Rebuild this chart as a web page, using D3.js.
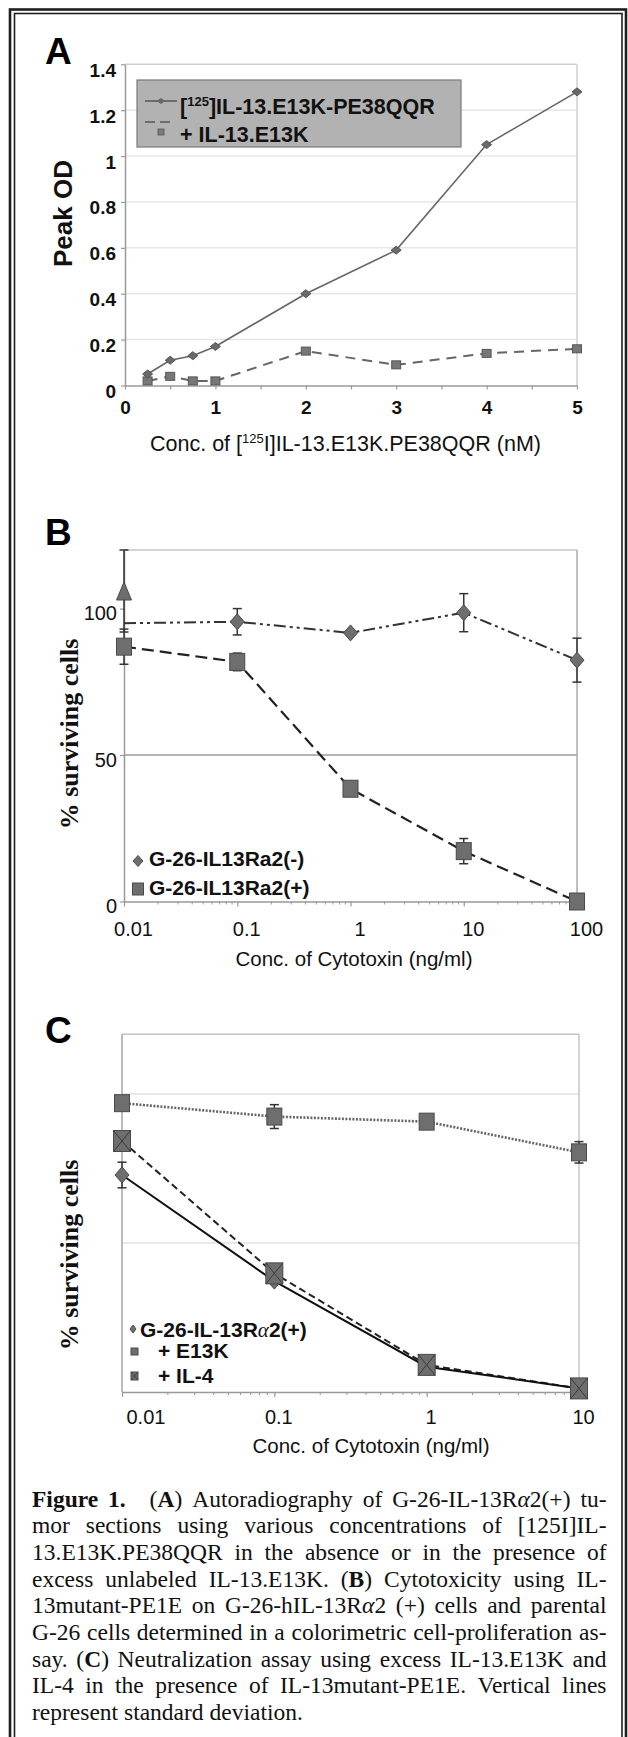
<!DOCTYPE html>
<html><head><meta charset="utf-8">
<script src="https://cdn.jsdelivr.net/npm/d3@7"></script>
<style>html,body{margin:0;padding:0;background:#fff}svg{display:block}</style>
</head><body>
<svg id="fig" width="628" height="1737"></svg>
<script>
// ---------------- DATA ----------------
// Panel A
const aConc      = [0.25, 0.5, 0.75, 1, 2, 3, 4, 5];
const aLabeled   = [0.05, 0.11, 0.13, 0.17, 0.40, 0.59, 1.05, 1.28];
const aCompeted  = [0.02, 0.04, 0.02, 0.02, 0.15, 0.09, 0.14, 0.16];
const aXTicks    = [0, 0.5, 1, 1.5, 2, 2.5, 3, 3.5, 4, 4.5, 5];
const aYTicks    = [0, 0.2, 0.4, 0.6, 0.8, 1, 1.2, 1.4];
// Panel B
const bConc      = [0.01, 0.1, 1, 10, 100];
const bNeg       = [95, 95.5, 91.7, 98.6, 82.4];
const bNegErr    = [0, 4.5, 0, 6.5, 7.5];
const bNegMarker = [false, true, true, true, true];
const bPos       = [87, 81.8, 38.5, 17.2, 0];
const bPosErr    = [6, 3, 0, 4.3, 0];
const bCtrlConc  = [0.01];
const bCtrl      = [106];
const bCtrlErr   = [14];
const bXTicks    = [0.01, 0.1, 1, 10, 100];
const bYTicks    = [0, 50, 100];
// Panel C
const cConc      = [0.01, 0.1, 1, 10];
const cBase      = [72.8, 37.2, 8.5, 1.2];
const cBaseErr   = [4.3, 0, 0, 0];
const cE13K      = [96.9, 92.4, 90.7, 80.4];
const cE13KErr   = [0, 4, 0, 3.6];
const cIL4       = [84.2, 39.8, 9.1, 1.2];
const cXTicks    = [0.01, 0.1, 1, 10];
const cGrid      = [50, 100];

// ---------------- HELPERS ----------------
const SANS = "'Liberation Sans', Arial, Helvetica, sans-serif";
const SERIF = "'Liberation Serif', 'Times New Roman', Times, serif";
const svg = d3.select("#fig");
const MFILL = "#6e6e6e", MSTROKE = "#4a4a4a";

function diamond(cx, cy, w, h) {
  return `M${cx},${cy - h / 2}L${cx + w / 2},${cy}L${cx},${cy + h / 2}L${cx - w / 2},${cy}Z`;
}
function triangle(cx, cy, w, h) {
  return `M${cx},${cy - h / 2}L${cx + w / 2},${cy + h / 2}L${cx - w / 2},${cy + h / 2}Z`;
}
function errBars(g, pts, xs, ys, cap, color) {
  pts.filter(d => d.e > 0).forEach(d => {
    const x = xs(d.x), y1 = ys(d.y + d.e), y0 = ys(d.y - d.e);
    g.append("line").attr("x1", x).attr("x2", x).attr("y1", y1).attr("y2", y0)
      .attr("stroke", color).attr("stroke-width", 1.5);
    [y0, y1].forEach(yy => g.append("line").attr("x1", x - cap / 2).attr("x2", x + cap / 2)
      .attr("y1", yy).attr("y2", yy).attr("stroke", color).attr("stroke-width", 1.5));
  });
}
function zip(xs, ys, es, ms) {
  return xs.map((x, i) => ({ x, y: ys[i], e: es ? es[i] : 0, m: ms ? ms[i] : true }));
}
function styleAxis(g, color) {
  g.select(".domain").attr("stroke", color).attr("stroke-width", 1.5);
  g.selectAll(".tick line").attr("stroke", color).attr("stroke-width", 1.2);
}

// ---------------- FRAME ----------------
svg.append("rect").attr("x", 10).attr("y", 9.5).attr("width", 616).attr("height", 1745)
  .attr("fill", "none").attr("stroke", "#1e1e1e").attr("stroke-width", 2.6);
svg.append("rect").attr("x", 14.5).attr("y", 13.5).attr("width", 607.5).attr("height", 1745)
  .attr("fill", "none").attr("stroke", "#1e1e1e").attr("stroke-width", 1.6);

// ================= PANEL A =================
(function () {
  const g = svg.append("g");
  const x = d3.scaleLinear().domain([0, 5]).range([125, 577]);
  const y = d3.scaleLinear().domain([0, 1.4]).range([385.5, 64.3]);

  g.selectAll(".grid").data(aYTicks.filter(v => v > 0 && v < 1.4)).enter().append("line")
    .attr("x1", x(0)).attr("x2", x(5)).attr("y1", d => y(d)).attr("y2", d => y(d))
    .attr("stroke", "#e6e6e6").attr("stroke-width", 1.5);
  g.append("line").attr("x1", x(0)).attr("x2", x(5)).attr("y1", y(1.4)).attr("y2", y(1.4))
    .attr("stroke", "#cfcfcf").attr("stroke-width", 1.5);
  g.append("line").attr("x1", x(5)).attr("x2", x(5)).attr("y1", y(1.4)).attr("y2", y(0))
    .attr("stroke", "#cfcfcf").attr("stroke-width", 1.5);

  const ya = g.append("g").attr("transform", `translate(${x(0)},0)`)
    .call(d3.axisLeft(y).tickValues(aYTicks).tickSize(4).tickSizeOuter(0).tickPadding(5)
      .tickFormat(d3.format("~g")));
  styleAxis(ya, "#9a9a9a");
  ya.selectAll("text").attr("dy", 0).attr("y", 12).attr("fill", "#111")
    .style("font-family", SANS).style("font-size", "19px").style("font-weight", "bold");

  const xa = g.append("g").attr("transform", `translate(0,${y(0)})`)
    .call(d3.axisBottom(x).tickValues(aXTicks).tickSize(4).tickSizeOuter(0)
      .tickFormat(d => Number.isInteger(d) ? d : ""));
  styleAxis(xa, "#9a9a9a");
  xa.selectAll("text").attr("dy", 0).attr("y", 28).attr("fill", "#111")
    .style("font-family", SANS).style("font-size", "19px").style("font-weight", "bold");

  const line = d3.line().x(d => x(d.x)).y(d => y(d.y));
  const s1 = zip(aConc, aLabeled), s2 = zip(aConc, aCompeted);
  g.append("path").attr("d", line(s2)).attr("fill", "none").attr("stroke", "#666")
    .attr("stroke-width", 2).attr("stroke-dasharray", "10,7");
  g.append("path").attr("d", line(s1)).attr("fill", "none").attr("stroke", "#666")
    .attr("stroke-width", 1.6);
  g.selectAll(".sq").data(s2).enter().append("rect")
    .attr("x", d => x(d.x) - 4.5).attr("y", d => y(d.y) - 4).attr("width", 9).attr("height", 8)
    .attr("fill", "#777").attr("stroke", "#555").attr("stroke-width", 1);
  g.selectAll(".dm").data(s1).enter().append("path")
    .attr("d", d => diamond(x(d.x), y(d.y), 10, 8)).attr("fill", "#6a6a6a").attr("stroke", "#555");

  // legend
  g.append("rect").attr("x", 137).attr("y", 80).attr("width", 324).attr("height", 67)
    .attr("fill", "#b2b2b2").attr("stroke", "#7a7a7a").attr("stroke-width", 1.2);
  g.append("line").attr("x1", 145).attr("x2", 177).attr("y1", 101).attr("y2", 101)
    .attr("stroke", "#555").attr("stroke-width", 1.5);
  g.append("path").attr("d", diamond(161, 101, 8, 6)).attr("fill", "#666");
  const t1 = g.append("text").attr("x", 180).attr("y", 113.5).attr("fill", "#111")
    .style("font-family", SANS).style("font-size", "21.5px").style("font-weight", "bold");
  t1.append("tspan").text("[");
  t1.append("tspan").attr("dy", -8).style("font-size", "13px").text("125");
  t1.append("tspan").attr("dy", 8).text("]IL-13.E13K-PE38QQR");
  g.append("line").attr("x1", 145).attr("x2", 172).attr("y1", 122).attr("y2", 122)
    .attr("stroke", "#555").attr("stroke-width", 1.5).attr("stroke-dasharray", "10,5");
  g.append("rect").attr("x", 158).attr("y", 129).attr("width", 6).attr("height", 6)
    .attr("fill", "#7a7a7a").attr("stroke", "#555").attr("stroke-width", 0.8);
  g.append("text").attr("x", 180).attr("y", 142).attr("fill", "#111")
    .style("font-family", SANS).style("font-size", "21.5px").style("font-weight", "bold")
    .text("+ IL-13.E13K");

  g.append("text").attr("x", 45).attr("y", 64).attr("fill", "#000")
    .style("font-family", SANS).style("font-size", "37px").style("font-weight", "bold").text("A");
  g.append("text").attr("transform", "translate(72,213.5) rotate(-90)").attr("text-anchor", "middle")
    .attr("fill", "#111").style("font-family", SANS).style("font-size", "26px").style("font-weight", "bold")
    .text("Peak OD");
  const xt = g.append("text").attr("x", 345.5).attr("y", 451).attr("text-anchor", "middle")
    .attr("fill", "#111").style("font-family", SANS).style("font-size", "21.5px");
  xt.append("tspan").text("Conc. of [");
  xt.append("tspan").attr("dy", -8).style("font-size", "13px").text("125");
  xt.append("tspan").attr("dy", 8).text("I]IL-13.E13K.PE38QQR (nM)");
})();

// ================= PANEL B =================
(function () {
  const g = svg.append("g");
  const x = d3.scaleLog().domain([0.01, 100]).range([124, 577]);
  const y = d3.scaleLinear().domain([0, 120]).range([901.5, 550]);

  g.append("line").attr("x1", x(0.01)).attr("x2", x(100)).attr("y1", y(50)).attr("y2", y(50))
    .attr("stroke", "#9c9c9c").attr("stroke-width", 1.5);
  g.append("line").attr("x1", x(0.01)).attr("x2", x(100)).attr("y1", y(120)).attr("y2", y(120))
    .attr("stroke", "#c4c4c4").attr("stroke-width", 1.5);
  g.append("line").attr("x1", x(100)).attr("x2", x(100)).attr("y1", y(120)).attr("y2", y(0))
    .attr("stroke", "#ababab").attr("stroke-width", 1.5);

  const ya = g.append("g").attr("transform", `translate(${x(0.01)},0)`)
    .call(d3.axisLeft(y).tickValues(bYTicks).tickSize(4).tickSizeOuter(0).tickPadding(3));
  styleAxis(ya, "#999");
  ya.selectAll("text").attr("dy", 0).attr("y", 11).attr("fill", "#111")
    .style("font-family", SANS).style("font-size", "20px");

  const xa = g.append("g").attr("transform", `translate(0,${y(0)})`)
    .call(d3.axisBottom(x).tickValues(bXTicks).tickSize(5).tickSizeOuter(0).tickFormat(d3.format("~g")));
  styleAxis(xa, "#999");
  xa.selectAll("text").attr("dy", 0).attr("y", 34).attr("dx", 9).attr("fill", "#111")
    .style("font-family", SANS).style("font-size", "20px");
  g.selectAll(".minor").data(x.ticks().filter(t => !bXTicks.some(b => Math.abs(b - t) < 1e-9)))
    .enter().append("line").attr("x1", d => x(d)).attr("x2", d => x(d))
    .attr("y1", y(0)).attr("y2", y(0) + 3).attr("stroke", "#999").attr("stroke-width", 1);

  const line = d3.line().x(d => x(d.x)).y(d => y(d.y));
  const neg = zip(bConc, bNeg, bNegErr, bNegMarker);
  const pos = zip(bConc, bPos, bPosErr);
  const ctrl = zip(bCtrlConc, bCtrl, bCtrlErr);

  errBars(g, ctrl, x, y, 9, "#333");
  errBars(g, pos, x, y, 9, "#333");
  errBars(g, neg, x, y, 9, "#333");
  g.append("path").attr("d", line(neg)).attr("fill", "none").attr("stroke", "#333")
    .attr("stroke-width", 2).attr("stroke-dasharray", "12,4,3,4,3,4");
  g.append("path").attr("d", line(pos)).attr("fill", "none").attr("stroke", "#222")
    .attr("stroke-width", 2.2).attr("stroke-dasharray", "12,6");
  g.selectAll(".tri").data(ctrl).enter().append("path")
    .attr("d", d => triangle(x(d.x), y(d.y), 15, 18)).attr("fill", MFILL).attr("stroke", MSTROKE);
  g.selectAll(".sq").data(pos).enter().append("rect")
    .attr("x", d => x(d.x) - 7.5).attr("y", d => y(d.y) - 8.5).attr("width", 15).attr("height", 17)
    .attr("fill", MFILL).attr("stroke", MSTROKE).attr("stroke-width", 1);
  g.selectAll(".dm").data(neg.filter(d => d.m)).enter().append("path")
    .attr("d", d => diamond(x(d.x), y(d.y), 14, 16)).attr("fill", MFILL).attr("stroke", MSTROKE);

  g.append("path").attr("d", diamond(138, 861, 10, 11)).attr("fill", MFILL).attr("stroke", MSTROKE);
  g.append("text").attr("x", 149).attr("y", 865.5).attr("fill", "#111")
    .style("font-family", SANS).style("font-size", "21px").style("font-weight", "bold")
    .text("G-26-IL13Ra2(-)");
  g.append("rect").attr("x", 132.5).attr("y", 883).attr("width", 11).attr("height", 12)
    .attr("fill", MFILL).attr("stroke", MSTROKE);
  g.append("text").attr("x", 149).attr("y", 894.5).attr("fill", "#111")
    .style("font-family", SANS).style("font-size", "21px").style("font-weight", "bold")
    .text("G-26-IL13Ra2(+)");

  g.append("text").attr("x", 45).attr("y", 545).attr("fill", "#000")
    .style("font-family", SANS).style("font-size", "37px").style("font-weight", "bold").text("B");
  g.append("text").attr("transform", "translate(78,734) rotate(-90)").attr("text-anchor", "middle")
    .attr("fill", "#111").style("font-family", SERIF).style("font-size", "26px").style("font-weight", "bold")
    .text("% surviving cells");
  g.append("text").attr("x", 354).attr("y", 966).attr("text-anchor", "middle").attr("fill", "#111")
    .style("font-family", SANS).style("font-size", "20.5px").text("Conc. of Cytotoxin (ng/ml)");
})();

// ================= PANEL C =================
(function () {
  const g = svg.append("g");
  const x = d3.scaleLog().domain([0.01, 10]).range([122, 579]);
  const y = d3.scaleLinear().domain([0, 120]).range([1392, 1034.3]);

  g.selectAll(".grid").data(cGrid).enter().append("line")
    .attr("x1", x(0.01)).attr("x2", x(10)).attr("y1", d => y(d)).attr("y2", d => y(d))
    .attr("stroke", "#e2e2e2").attr("stroke-width", 1.5);
  g.append("line").attr("x1", x(0.01)).attr("x2", x(10)).attr("y1", y(120)).attr("y2", y(120))
    .attr("stroke", "#c4c4c4").attr("stroke-width", 1.5);
  g.append("line").attr("x1", x(10)).attr("x2", x(10)).attr("y1", y(120)).attr("y2", y(0))
    .attr("stroke", "#c4c4c4").attr("stroke-width", 1.5);
  g.append("line").attr("x1", x(0.01)).attr("x2", x(0.01)).attr("y1", y(120)).attr("y2", y(0))
    .attr("stroke", "#a5a5a5").attr("stroke-width", 1.5);

  const xa = g.append("g").attr("transform", `translate(0,${y(0)})`)
    .call(d3.axisBottom(x).tickValues(cXTicks).tickSize(5).tickSizeOuter(0).tickFormat(d3.format("~g")));
  styleAxis(xa, "#999");
  xa.selectAll("text").attr("dy", 0).attr("y", 32).attr("dx", 4).attr("fill", "#111")
    .style("font-family", SANS).style("font-size", "20px")
    .attr("text-anchor", (d, i) => i === 0 ? "start" : "middle");
  g.selectAll(".minor").data(x.ticks().filter(t => !cXTicks.some(b => Math.abs(b - t) < 1e-9)))
    .enter().append("line").attr("x1", d => x(d)).attr("x2", d => x(d))
    .attr("y1", y(0)).attr("y2", y(0) + 3).attr("stroke", "#999").attr("stroke-width", 1);

  const line = d3.line().x(d => x(d.x)).y(d => y(d.y));
  const base = zip(cConc, cBase, cBaseErr);
  const e13k = zip(cConc, cE13K, cE13KErr);
  const il4 = zip(cConc, cIL4);

  errBars(g, base, x, y, 9, "#333");
  errBars(g, e13k, x, y, 9, "#333");
  g.append("path").attr("d", line(e13k)).attr("fill", "none").attr("stroke", "#666")
    .attr("stroke-width", 2.6).attr("stroke-dasharray", "2,1.5");
  g.append("path").attr("d", line(il4)).attr("fill", "none").attr("stroke", "#222")
    .attr("stroke-width", 2).attr("stroke-dasharray", "7,4");
  g.append("path").attr("d", line(base)).attr("fill", "none").attr("stroke", "#111")
    .attr("stroke-width", 2);

  g.selectAll(".dm").data(base).enter().append("path")
    .attr("d", d => diamond(x(d.x), y(d.y), 14, 16)).attr("fill", MFILL).attr("stroke", MSTROKE);
  g.selectAll(".sq").data(e13k).enter().append("rect")
    .attr("x", d => x(d.x) - 7.5).attr("y", d => y(d.y) - 8.5).attr("width", 15).attr("height", 17)
    .attr("fill", MFILL).attr("stroke", MSTROKE).attr("stroke-width", 1);
  const xs = g.selectAll(".xs").data(il4).enter().append("g")
    .attr("transform", d => `translate(${x(d.x)},${y(d.y)})`);
  xs.append("rect").attr("x", -8.5).attr("y", -10.5).attr("width", 17).attr("height", 21)
    .attr("fill", MFILL).attr("stroke", MSTROKE).attr("stroke-width", 1);
  xs.append("path").attr("d", "M-8.5,-10.5L8.5,10.5M8.5,-10.5L-8.5,10.5")
    .attr("stroke", "#3a3a3a").attr("stroke-width", 1);

  const lt = (xx, yy, parts) => {
    const t = g.append("text").attr("x", xx).attr("y", yy).attr("fill", "#111")
      .style("font-family", SANS).style("font-size", "21px").style("font-weight", "bold");
    parts.forEach(p => {
      const s = t.append("tspan").text(p[0]);
      if (p[1]) s.style("font-family", SERIF).style("font-weight", "normal").style("font-style", "italic");
    });
  };
  g.append("path").attr("d", diamond(133, 1329, 6, 8)).attr("fill", MFILL).attr("stroke", MSTROKE);
  lt(140, 1336.5, [["G-26-IL-13R"], ["α", 1], ["2(+)"]]);
  g.append("rect").attr("x", 131).attr("y", 1348).attr("width", 7).attr("height", 7)
    .attr("fill", MFILL).attr("stroke", MSTROKE);
  lt(158, 1358, [["+ E13K"]]);
  const lx = g.append("g").attr("transform", "translate(134.5,1376)");
  lx.append("rect").attr("x", -3.5).attr("y", -4).attr("width", 7).attr("height", 8)
    .attr("fill", MFILL).attr("stroke", MSTROKE);
  lx.append("path").attr("d", "M-3.5,-4L3.5,4M3.5,-4L-3.5,4").attr("stroke", "#333").attr("stroke-width", 0.8);
  lt(158, 1383, [["+ IL-4"]]);

  g.append("text").attr("x", 45).attr("y", 1042.5).attr("fill", "#000")
    .style("font-family", SANS).style("font-size", "37px").style("font-weight", "bold").text("C");
  g.append("text").attr("transform", "translate(78,1255) rotate(-90)").attr("text-anchor", "middle")
    .attr("fill", "#111").style("font-family", SERIF).style("font-size", "26px").style("font-weight", "bold")
    .text("% surviving cells");
  g.append("text").attr("x", 371).attr("y", 1453).attr("text-anchor", "middle").attr("fill", "#111")
    .style("font-family", SANS).style("font-size", "20.5px").text("Conc. of Cytotoxin (ng/ml)");
})();

// ================= CAPTION =================
(function () {
  // segments: [text, bold, italic, extraGapBeforeNextWord]
  const caption = [
    [["Figure 1.", 1], [" ", 0], ["", 0, 0, 14], ["(", 0], ["A", 1], [") Autoradiography of G-26-IL-13R", 0], ["α", 0, 1], ["2(+) tu-", 0]],
    [["mor sections using various concentrations of [125I]IL-", 0]],
    [["13.E13K.PE38QQR in the absence or in the presence of", 0]],
    [["excess unlabeled IL-13.E13K. (", 0], ["B", 1], [") Cytotoxicity using IL-", 0]],
    [["13mutant-PE1E on G-26-hIL-13R", 0], ["α", 0, 1], ["2 (+) cells and parental", 0]],
    [["G-26 cells determined in a colorimetric cell-proliferation as-", 0]],
    [["say. (", 0], ["C", 1], [") Neutralization assay using excess IL-13.E13K and", 0]],
    [["IL-4 in the presence of IL-13mutant-PE1E. Vertical lines", 0]],
    [["represent standard deviation.", 0]]
  ];
  const x0 = 32, x1 = 606.5, base = 1506.7, lh = 26.67, FS = "23.5px";
  const g = svg.append("g");

  function addRuns(t, runs) {
    runs.forEach(r => {
      const sp = t.append("tspan").text(r.t);
      if (r.b) sp.style("font-weight", "bold");
      if (r.it) sp.style("font-style", "italic");
    });
  }
  // measure a normal space
  const probe = g.append("text").style("font-family", SERIF).style("font-size", FS)
    .attr("xml:space", "preserve").text("a a");
  const probe2 = g.append("text").style("font-family", SERIF).style("font-size", FS).text("aa");
  const spaceW = probe.node().getComputedTextLength() - probe2.node().getComputedTextLength();
  probe.remove(); probe2.remove();

  caption.forEach((segs, li) => {
    const words = [];
    let cur = null, pending = 0;
    segs.forEach(s => {
      if (s[3]) pending += s[3];
      const parts = s[0].split(" ");
      parts.forEach((p, k) => {
        if (k > 0) cur = null;
        if (p.length) {
          if (!cur) { cur = { runs: [], extra: pending }; pending = 0; words.push(cur); }
          cur.runs.push({ t: p, b: s[1], it: s[2] });
        }
      });
    });
    // measure words
    words.forEach(w => {
      const t = g.append("text").style("font-family", SERIF).style("font-size", FS);
      addRuns(t, w.runs);
      w.width = t.node().getComputedTextLength();
      t.remove();
    });
    const total = d3.sum(words, w => w.width) + d3.sum(words, w => w.extra);
    const last = li === caption.length - 1;
    const gap = last ? spaceW : (x1 - x0 - total) / (words.length - 1);
    const t = g.append("text").attr("y", base + li * lh).attr("fill", "#111")
      .style("font-family", SERIF).style("font-size", FS);
    let xpos = x0;
    words.forEach((w, i) => {
      if (i > 0) xpos += gap;
      xpos += w.extra;
      w.runs.forEach((r, k) => {
        const sp = t.append("tspan").text(r.t);
        if (k === 0) sp.attr("x", xpos);
        if (r.b) sp.style("font-weight", "bold");
        if (r.it) sp.style("font-style", "italic");
      });
      xpos += w.width;
    });
  });
})();
</script>
</body></html>
